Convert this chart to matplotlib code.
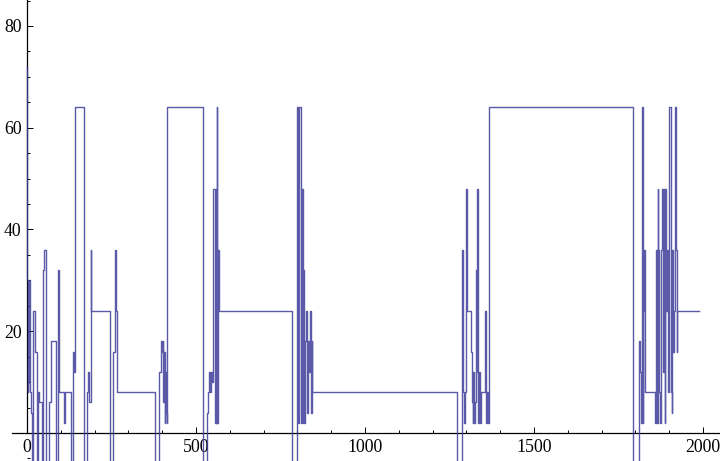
import matplotlib
matplotlib.use("Agg")
import matplotlib.pyplot as plt
from matplotlib.ticker import MultipleLocator, FixedLocator

LOW = -6  # drops that run below the visible range

# Step series: x where each new level starts, and the level
step_x = [0, 1, 2, 3, 4, 5, 6, 7, 8, 9, 10, 11,
          14, 19, 23, 29, 31, 34, 43, 48, 50, 56, 66, 70, 86, 93, 96, 110, 112, 129,
          135, 137, 139, 142, 169, 178, 181, 184, 188, 190, 246, 255, 260, 263, 265, 267,
          379, 391, 395, 398, 401, 403, 405, 407, 409, 411, 413, 415, 520, 521, 522,
          533, 536, 539, 541, 543, 547, 551, 556, 558, 560, 561, 563, 566, 569, 783,
          798, 802, 804, 810, 813, 815, 817, 820, 822, 825, 828, 830, 833, 836, 839, 842, 844,
          1271, 1286, 1288, 1291, 1293, 1296, 1299, 1301, 1314, 1316, 1318, 1320, 1323, 1325,
          1327, 1330, 1332, 1335, 1338, 1340, 1342, 1355, 1358, 1360, 1364, 1368,
          1792, 1809, 1812, 1816, 1819, 1821, 1823, 1825, 1828, 1858, 1860, 1863, 1866, 1868,
          1871, 1873, 1875, 1878, 1881, 1883, 1886, 1888, 1891, 1893, 1896, 1898, 1904, 1907,
          1909, 1912, 1915, 1917, 1920, 1922, 1924, 1988]
step_y = [72, 30, 8, 30, 14, 28, 10, 30, 16, 30, 8, 4,
          LOW, 24, 16, LOW, 8, 6, LOW, 32, 36, LOW, 6, 18, LOW, 32, 8, 2, 8, LOW,
          12, 16, 12, 64, LOW, 8, 12, 6, 36, 24, LOW, 16, 36, 24, 12, 8,
          LOW, 12, 18, 16, 18, 6, 16, 2, 12, 4, 2, 64, 58, 64, LOW,
          4, 8, 12, 8, 12, 10, 48, 2, 48, 2, 64, 2, 36, 24, LOW,
          64, 2, 64, 2, 48, 2, 32, 2, 18, 24, 4, 18, 12, 24, 4, 18, 8,
          LOW, 12, 36, 8, 2, 8, 48, 24, 16, 6, 2, 12, 2, 6,
          32, 12, 48, 2, 12, 2, 8, 24, 2, 8, 2, 64,
          LOW, 18, 12, 2, 64, 2, 24, 36, 8, 2, 36, 2, 48, 36,
          8, 2, 36, 48, 12, 48, 2, 48, 24, 36, 8, 64, 8, 4,
          36, 16, 24, 64, 36, 16, 24, 24]

x_ticks = [0, 500, 1000, 1500, 2000]
y_ticks = [20, 40, 60, 80]

line_color = (0.24, 0.24, 0.6)

fig = plt.figure(figsize=(7.2, 4.61), dpi=100)
ax = fig.add_axes([0, 0, 1, 1])
ax.plot(step_x, step_y, drawstyle="steps-post", color=line_color, lw=1.0,
        alpha=0.85, zorder=3)

ax.set_xlim(-80, 2050)
ax.set_ylim(-5.5, 85.1)

for s in ("top", "right"):
    ax.spines[s].set_visible(False)
ax.spines["left"].set_position(("data", 0))
ax.spines["bottom"].set_position(("data", 0))
ax.spines["left"].set_bounds(0, 85.1)
ax.spines["bottom"].set_bounds(-44, 2050)
for s in ("left", "bottom"):
    ax.spines[s].set_linewidth(0.9)
    ax.spines[s].set_color("black")
    ax.spines[s].set_zorder(2)

ax.xaxis.set_major_locator(FixedLocator(x_ticks))
ax.xaxis.set_minor_locator(MultipleLocator(100))
ax.yaxis.set_major_locator(FixedLocator(y_ticks))
ax.yaxis.set_minor_locator(MultipleLocator(5))
ax.tick_params(which="both", direction="in", width=0.7, colors="black")
ax.tick_params(which="major", length=4)
ax.tick_params(which="minor", length=2.3)
ax.tick_params(axis="x", which="major", pad=4)
ax.tick_params(axis="y", which="major", pad=4)

for lab in ax.get_xticklabels() + ax.get_yticklabels():
    lab.set_fontfamily("Liberation Serif")
    lab.set_fontsize(12.8)

fig.savefig("out.png", dpi=100)
